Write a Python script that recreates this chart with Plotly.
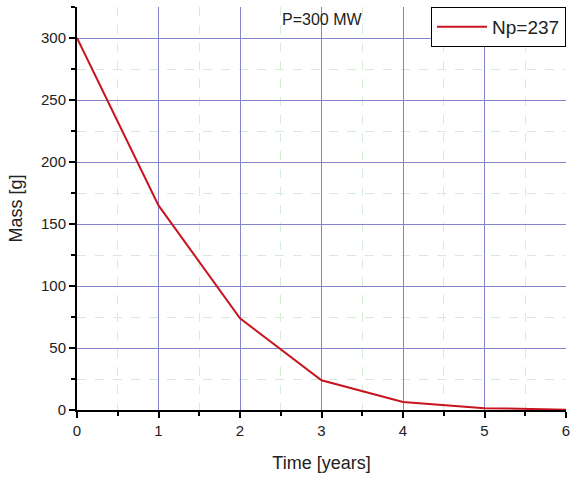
import plotly.graph_objects as go

time_years = [0, 1, 2, 3, 4, 5, 6]
mass_np237 = [300, 165, 74, 24, 6.5, 1.5, 0.3]
x_ticks = [0, 1, 2, 3, 4, 5, 6]
y_ticks = [0, 50, 100, 150, 200, 250, 300]

fig = go.Figure()
fig.add_trace(go.Scatter(
    x=time_years, y=mass_np237, mode="lines", name="Np=237",
    line=dict(color="#c8141e", width=2),
))

font = "Liberation Sans, Arial, sans-serif"
fig.update_layout(
    width=575, height=477,
    margin=dict(l=77, r=5, t=7, b=67),
    paper_bgcolor="white", plot_bgcolor="white",
    font=dict(family=font, size=15, color="#222"),
    showlegend=True,
    legend=dict(x=1.0, y=1.0, xanchor="right", yanchor="top",
                bordercolor="black", borderwidth=1, bgcolor="white",
                font=dict(size=19), itemwidth=50),
    annotations=[dict(text="P=300 MW", x=3.0, y=1.0, xref="x", yref="paper",
                      xanchor="center", yanchor="top", yshift=-2, showarrow=False,
                      font=dict(size=16))],
)
fig.update_xaxes(
    range=[0, 6], tickvals=x_ticks, ticks="outside", ticklen=6, tickwidth=2,
    tickcolor="black", showline=True, linecolor="black", linewidth=2,
    showgrid=True, gridcolor="#8484cc", gridwidth=1, zeroline=False,
    title=dict(text="Time [years]", font=dict(size=18), standoff=18),
    minor=dict(dtick=0.5, ticks="outside", ticklen=4, tickcolor="black",
               showgrid=True, gridcolor="#d6ecd6", griddash="dash", gridwidth=1),
)
fig.update_yaxes(
    range=[0, 325], tickvals=y_ticks, ticks="outside", ticklen=6, tickwidth=2,
    tickcolor="black", showline=True, linecolor="black", linewidth=2,
    showgrid=True, gridcolor="#8484cc", gridwidth=1, zeroline=False,
    title=dict(text="Mass [g]", font=dict(size=18), standoff=14),
    minor=dict(dtick=25, ticks="outside", ticklen=4, tickcolor="black",
               showgrid=True, gridcolor="#d6ecd6", griddash="dash", gridwidth=1),
)
fig.write_html("out.html", config={"displayModeBar": False},
               post_script="document.body.style.margin='0';")
